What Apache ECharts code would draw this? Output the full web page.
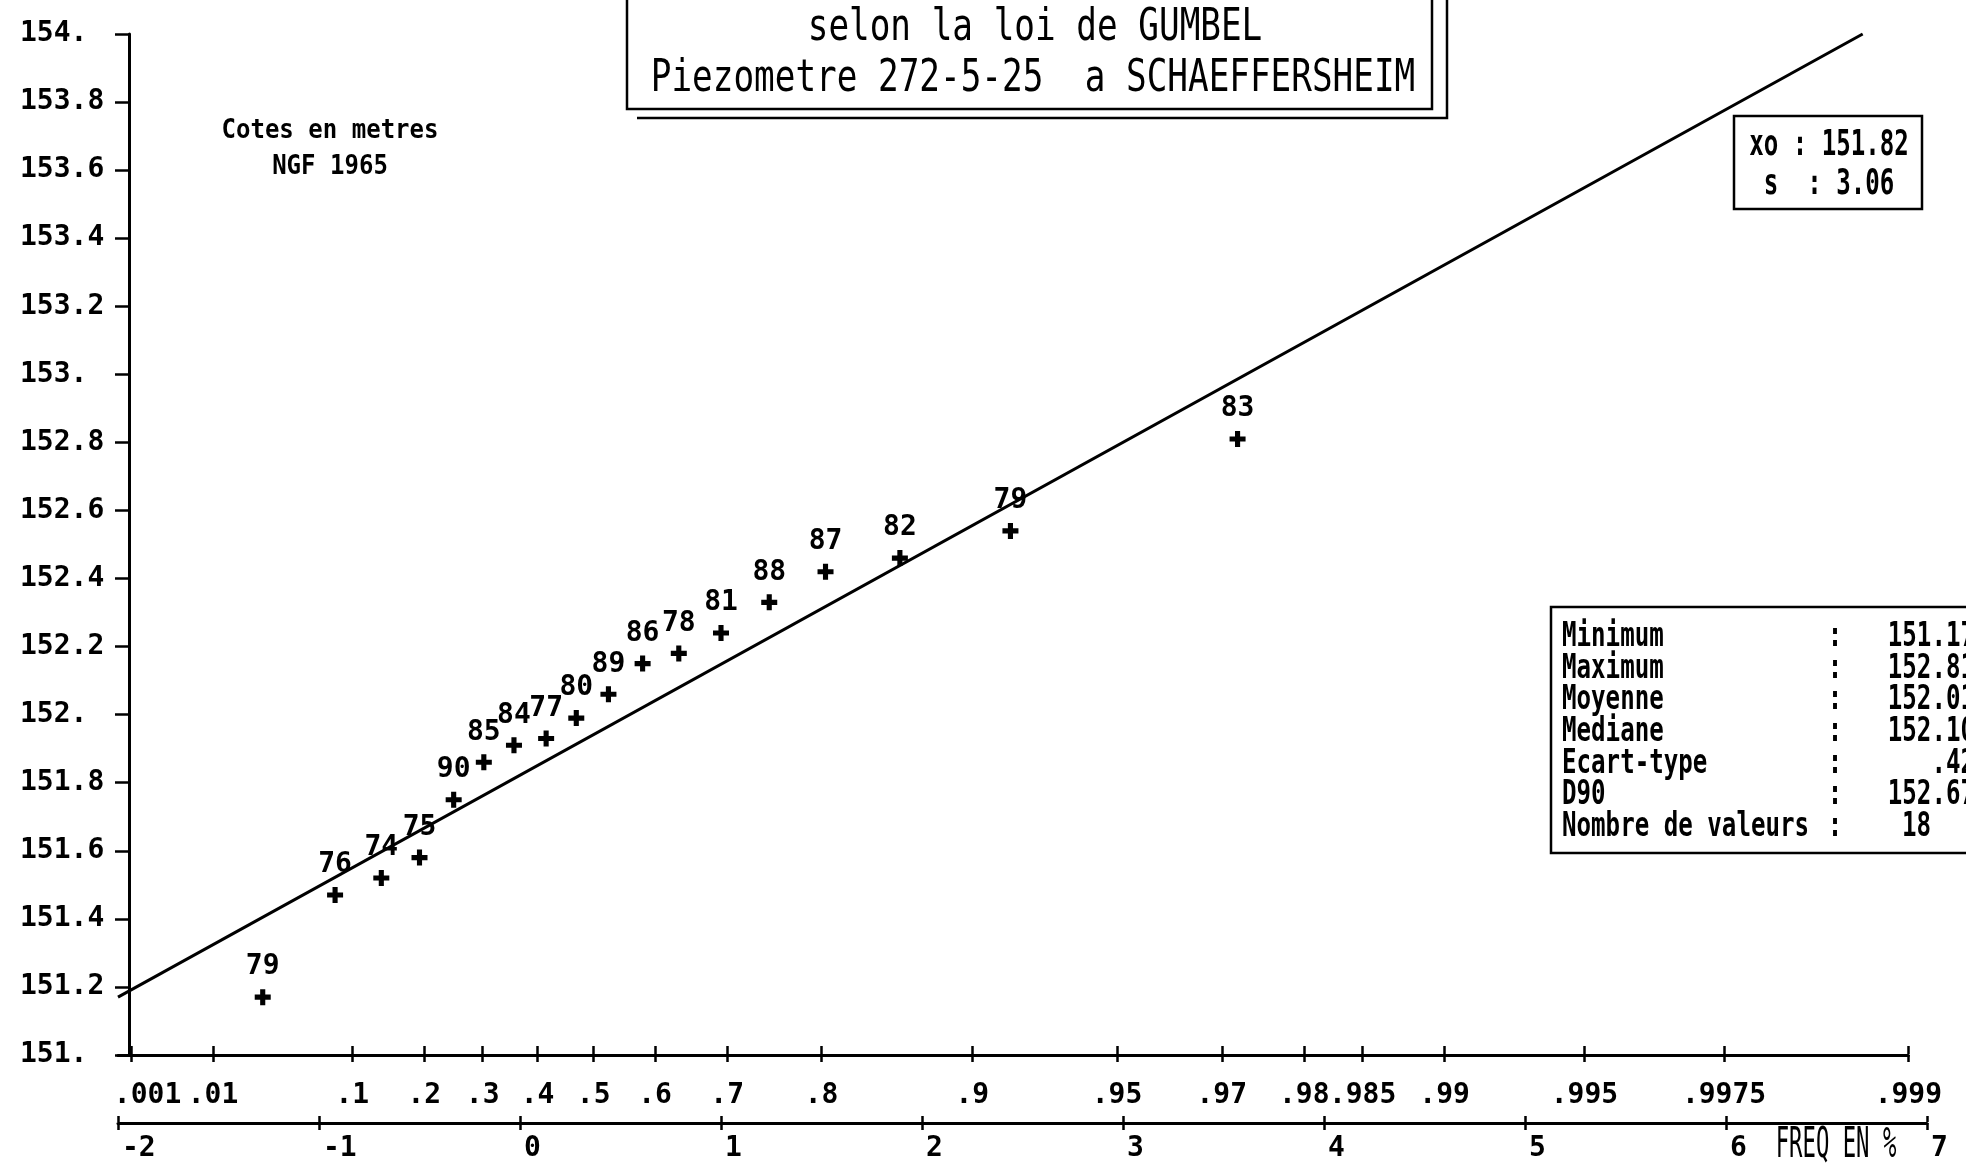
<!DOCTYPE html>
<html>
<head>
<meta charset="utf-8">
<title>Ajustement selon la loi de Gumbel - Piezometre 272-5-25</title>
<script src="https://cdn.jsdelivr.net/npm/echarts@6/dist/echarts.min.js"></script>
<style>
  html, body { margin: 0; padding: 0; background: #fff; }
  #main { width: 1966px; height: 1169px; }
</style>
</head>
<body>
<div id="main"></div>
<script>
// annees des releves (etiquette de chaque point)
const years = ['79', '76', '74', '75', '90', '85', '84', '77', '80', '89', '86', '78', '81', '88', '87', '82', '79', '83']
// variable reduite de Gumbel (abscisse des points)
const reducedVar = [-1.28, -0.92, -0.69, -0.50, -0.33, -0.18, -0.03, 0.13, 0.28, 0.44, 0.61, 0.79, 1.00, 1.24, 1.52, 1.89, 2.44, 3.57]
// cotes en metres NGF 1965
const levels = [151.17, 151.47, 151.52, 151.58, 151.75, 151.86, 151.91, 151.93, 151.99, 152.06, 152.15, 152.18, 152.24, 152.33, 152.42, 152.46, 152.54, 152.81]

// droite d'ajustement (extremites)
const fitX = [-2, 6.68]
const fitY = [151.17, 154.0]

// graduations de l'axe des frequences
const freqLabels = ['.001', '.01', '.1', '.2', '.3', '.4', '.5', '.6', '.7', '.8', '.9', '.95', '.97', '.98', '.985', '.99', '.995', '.9975', '.999']

// tableau des statistiques
const statNames = ['Minimum', 'Maximum', 'Moyenne', 'Mediane', 'Ecart-type', 'D90', 'Nombre de valeurs']
const statValues = ['151.17', '152.81', '152.01', '152.10', '.42', '152.67', '18']

const titleLines = ['selon la loi de GUMBEL', 'Piezometre 272-5-25  a SCHAEFFERSHEIM']
const paramLines = ['xo : 151.82', 's  : 3.06']

const MONO = '"DejaVu Sans Mono", "Liberation Mono", monospace'
const BLACK = '#000'

// echelle de Gumbel : frequence -> variable reduite
const gumbel = p => -Math.log(-Math.log(p))
const freqPos = freqLabels.map(s => gumbel(parseFloat('0' + s)))

const X0 = 118 // abscisse de -2
const UNIT = 201 // pixels par unite de variable reduite
const freqMax = freqPos[freqPos.length - 1]

function freqFormatter(v) {
  let best = 0
  for (let i = 1; i < freqPos.length; i++) {
    if (Math.abs(freqPos[i] - v) < Math.abs(freqPos[best] - v)) best = i
  }
  // la premiere etiquette est decalee vers la droite
  return best === 0 ? '{first|' + freqLabels[0] + '}' : freqLabels[best]
}

function txt(x, y, text, size, opts) {
  opts = opts || {}
  const align = opts.align || 'center'
  return {
    type: 'text',
    x: x,
    y: y,
    scaleX: opts.scaleX || 1,
    z: 10,
    style: {
      text: text,
      font: (opts.weight || 'normal') + ' ' + size + 'px ' + MONO,
      fill: BLACK,
      align: align,
      textAlign: align,
      verticalAlign: 'middle',
      textVerticalAlign: 'middle'
    }
  }
}

function box(x, y, w, h) {
  return {
    type: 'rect',
    z: 9,
    shape: { x: x, y: y, width: w, height: h },
    style: { fill: 'transparent', stroke: BLACK, lineWidth: 2.5 }
  }
}

const chart = echarts.init(document.getElementById('main'))

const axisLineStyle = { color: BLACK, width: 3 }
const tickStyle = { color: BLACK, width: 2.5 }
const labelFont = { color: BLACK, fontFamily: MONO, fontWeight: 'bold', fontSize: 28 }

// elements graphiques : cadres et textes
const graphics = []
// cadre du titre avec son ombre
graphics.push(box(627, -10, 805, 119))
graphics.push({
  type: 'polyline',
  z: 9,
  shape: { points: [[637, 118], [1447, 118], [1447, -10]] },
  style: { fill: null, stroke: BLACK, lineWidth: 2.5 }
})
graphics.push(txt(1035, 29, titleLines[0], 44, { scaleX: 0.78 }))
graphics.push(txt(1033, 80, titleLines[1], 44, { scaleX: 0.78 }))

graphics.push(txt(330, 131, 'Cotes en metres', 27, { weight: 'bold', scaleX: 0.89 }))
graphics.push(txt(330, 167, 'NGF 1965', 27, { weight: 'bold', scaleX: 0.89 }))

// parametres de la loi
graphics.push(box(1734, 116, 188, 93))
graphics.push(txt(1829, 146, paramLines[0], 36, { weight: 'bold', scaleX: 0.67 }))
graphics.push(txt(1829, 185, paramLines[1], 36, { weight: 'bold', scaleX: 0.67 }))

// statistiques
graphics.push(box(1551, 607, 450, 246))
statNames.forEach((name, i) => {
  const y = 637 + i * 31.7
  graphics.push(txt(1562, y, name, 34, { weight: 'bold', scaleX: 0.71, align: 'left' }))
  graphics.push(txt(1835, y, ':', 34, { weight: 'bold', scaleX: 0.71 }))
  if (i === statValues.length - 1) {
    graphics.push(txt(1902, y, statValues[i], 34, { weight: 'bold', scaleX: 0.71, align: 'left' }))
  } else {
    graphics.push(txt(1975, y, statValues[i], 34, { weight: 'bold', scaleX: 0.71, align: 'right' }))
  }
})

graphics.push(txt(1836, 1146, 'FREQ EN %', 42, { scaleX: 0.53 }))

const option = {
  animation: false,
  backgroundColor: '#fff',
  grid: [
    { left: X0, top: 34, width: 9 * UNIT, height: 1021, outerBoundsMode: 'none' },
    { left: X0, top: 1054, width: (freqMax + 2) * UNIT, height: 1, outerBoundsMode: 'none' },
    { left: X0, top: 1122, width: 9 * UNIT, height: 1, outerBoundsMode: 'none' }
  ],
  xAxis: [
    { gridIndex: 0, type: 'value', min: -2, max: 7, show: false },
    {
      // axe des frequences
      gridIndex: 1,
      type: 'value',
      position: 'bottom',
      min: -2,
      max: freqMax,
      axisLine: { show: true, onZero: false, lineStyle: axisLineStyle },
      axisTick: { show: true, customValues: freqPos, length: 7, lineStyle: tickStyle },
      axisLabel: Object.assign({
        customValues: freqPos,
        formatter: freqFormatter,
        margin: 27,
        rich: { first: { fontFamily: MONO, fontWeight: 'bold', fontSize: 28, color: BLACK, padding: [0, 0, 0, 32] } }
      }, labelFont),
      splitLine: { show: false }
    },
    {
      gridIndex: 1,
      type: 'value',
      position: 'top',
      min: -2,
      max: freqMax,
      axisLine: { show: false, onZero: false },
      axisTick: { show: true, customValues: freqPos, length: 8, lineStyle: tickStyle },
      axisLabel: { show: false },
      splitLine: { show: false }
    },
    {
      // axe de la variable reduite
      gridIndex: 2,
      type: 'value',
      position: 'bottom',
      min: -2,
      max: 7,
      interval: 1,
      axisLine: { show: true, onZero: false, lineStyle: axisLineStyle },
      axisTick: { show: true, length: 7, lineStyle: tickStyle },
      axisLabel: Object.assign({ margin: 12, align: 'left', padding: [0, 0, 0, 4], formatter: v => String(v) }, labelFont),
      splitLine: { show: false }
    },
    {
      gridIndex: 2,
      type: 'value',
      position: 'top',
      min: -2,
      max: 7,
      interval: 1,
      axisLine: { show: false, onZero: false },
      axisTick: { show: true, length: 6, lineStyle: tickStyle },
      axisLabel: { show: false },
      splitLine: { show: false }
    }
  ],
  yAxis: [
    {
      gridIndex: 0,
      type: 'value',
      min: 151,
      max: 154,
      interval: 0.2,
      offset: -11,
      axisLine: { show: true, onZero: false, lineStyle: axisLineStyle },
      axisTick: { show: true, length: 14, lineStyle: tickStyle },
      axisLabel: Object.assign({
        align: 'left',
        margin: 109,
        verticalAlign: 'middle',
        padding: [0, 0, 12, 0],
        formatter: v => {
          const r = Math.round(v * 10) / 10
          return r % 1 === 0 ? r + '.' : r.toFixed(1)
        }
      }, labelFont),
      splitLine: { show: false }
    },
    { gridIndex: 1, type: 'value', min: 0, max: 1, show: false },
    { gridIndex: 2, type: 'value', min: 0, max: 1, show: false }
  ],
  series: [
    {
      name: 'Ajustement',
      type: 'line',
      xAxisIndex: 0,
      yAxisIndex: 0,
      data: fitX.map((x, i) => [x, fitY[i]]),
      symbol: 'none',
      clip: false,
      lineStyle: { color: BLACK, width: 3 },
      silent: true
    },
    {
      name: 'Cotes',
      type: 'scatter',
      xAxisIndex: 0,
      yAxisIndex: 0,
      data: levels.map((v, i) => [reducedVar[i], v, years[i]]),
      symbol: 'path://M3.4,0H6.6V3.4H10V6.6H6.6V10H3.4V6.6H0V3.4H3.4Z',
      symbolSize: 16,
      itemStyle: { color: BLACK, opacity: 1 },
      label: {
        show: true,
        position: 'top',
        distance: 11,
        formatter: p => p.data[2],
        color: BLACK,
        opacity: 1,
        fontFamily: MONO,
        fontWeight: 'bold',
        fontSize: 28,
        lineHeight: 22
      },
      emphasis: { disabled: true },
      silent: true
    }
  ],
  graphic: graphics
}

chart.setOption(option)
</script>
</body>
</html>
